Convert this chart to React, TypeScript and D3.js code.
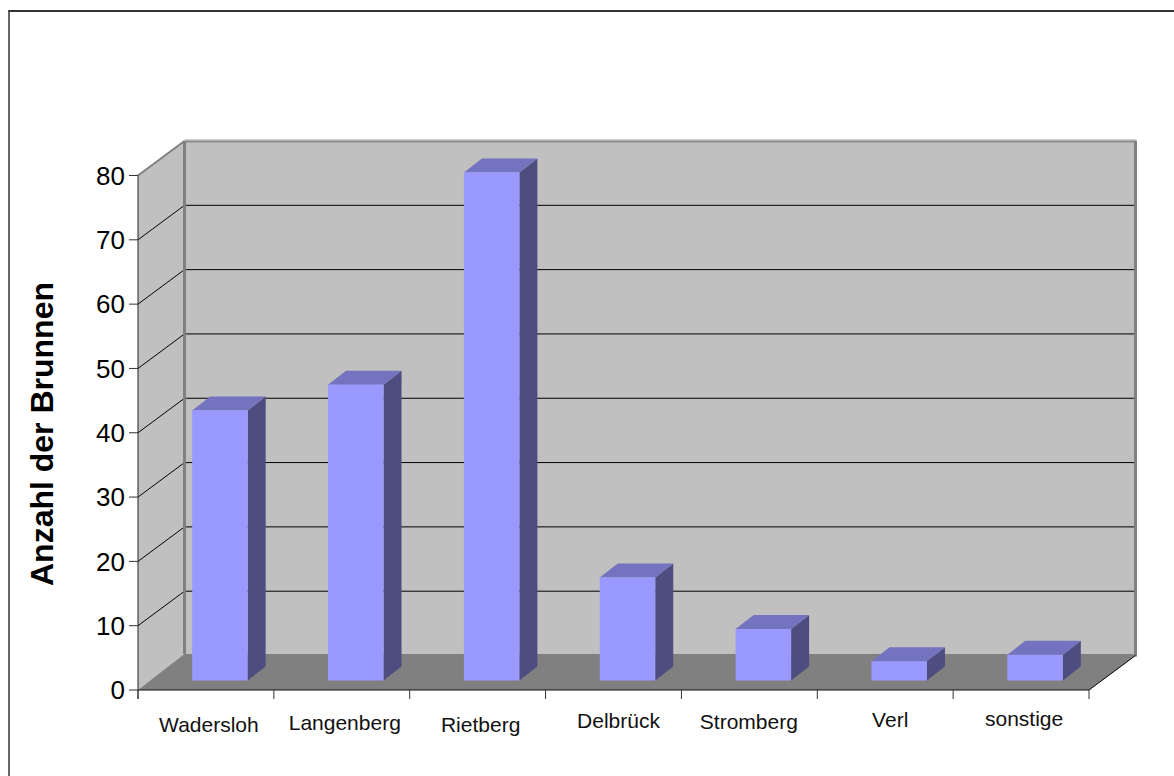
import React from "react";
import * as d3 from "d3";

const categories = ["Wadersloh", "Langenberg", "Rietberg", "Delbrück", "Stromberg", "Verl", "sonstige"];
const wellCounts = [42, 46, 79, 16, 8, 3, 4];
const yTicks = [0, 10, 20, 30, 40, 50, 60, 70, 80];
const yTitle = "Anzahl der Brunnen";
const labelBaselines = [732, 730, 732, 727.5, 728.5, 727, 726];
const labelShifts = [3, 3, 3, 5, -0.5, 5, 3];

const W = 1174;
const H = 776;
const FONT = "'Liberation Sans', Arial, sans-serif";

// Oblique offset between the front edge of the floor and the back wall.
const DX = 46.5;
const DY = -34.5;
const FLOOR_BACK_LIFT = 1.5;
// Position of the bars within the floor depth, and the bars' own depth.
const BAR_DX = 14;
const BAR_DY = -9.5;
const BAR_WIDTH = 55.5;
const BAR_DEPTH_X = 18;
const BAR_DEPTH_Y = -14;

const x = d3.scaleBand<string>().domain(categories).range([138, 1089]).paddingInner(0).paddingOuter(0);
const y = d3.scaleLinear().domain([0, 80]).range([690, 175.5]);

const pts = (p: [number, number][]) => p.map((q) => q.join(",")).join(" ");

export default function App() {
  const x0 = x.range()[0];
  const x1 = x.range()[1];
  const y0 = y(0);
  const yTop = y(80);
  const gap = (x.bandwidth() - BAR_WIDTH) / 2;
  const tickXs = [...categories.map((c) => x(c) as number), x1];
  const floorBack = y0 + DY - FLOOR_BACK_LIFT;

  return (
    <svg
      width={W}
      height={H}
      viewBox={`0 0 ${W} ${H}`}
      style={{ position: "absolute", left: 0, top: 0, background: "#fff" }}
      fontFamily={FONT}
    >
      {/* chart frame, open at the right and bottom page edges */}
      <line x1={9} x2={9} y1={11} y2={H} stroke="#333" strokeWidth={1.5} />
      <line x1={8.25} x2={W} y1={11} y2={11} stroke="#333" strokeWidth={2} />

      {/* walls and floor */}
      <polygon
        points={pts([[x0 + DX, yTop + DY], [x1 + DX, yTop + DY], [x1 + DX, y0 + DY], [x0 + DX, y0 + DY]])}
        fill="#c0c0c0"
      />
      <polygon
        points={pts([[x0, yTop], [x0 + DX, yTop + DY], [x0 + DX, y0 + DY], [x0, y0]])}
        fill="#c0c0c0"
      />

      {/* gridlines across the side and back walls */}
      {yTicks.slice(1, -1).map((t) => (
        <path
          key={t}
          d={`M${x0},${y(t)} L${x0 + DX},${y(t) + DY} H${x1 + DX}`}
          fill="none"
          stroke="#000"
          strokeWidth={1}
        />
      ))}

      {/* wall outlines */}
      <line x1={x0} x2={x0 + DX} y1={yTop} y2={yTop + DY} stroke="#808080" strokeWidth={2} />
      <line x1={x0 + DX} x2={x1 + DX + 1} y1={yTop + DY - 1} y2={yTop + DY - 1} stroke="#d0d0d0" strokeWidth={2} />
      <line x1={x0 + DX} x2={x1 + DX + 1} y1={yTop + DY + 0.5} y2={yTop + DY + 0.5} stroke="#8c8c8c" strokeWidth={2} />
      <line x1={x0 + DX} x2={x0 + DX} y1={yTop + DY} y2={floorBack} stroke="#808080" strokeWidth={3} />
      <line x1={x1 + DX} x2={x1 + DX} y1={yTop + DY} y2={y0 + DY + 1} stroke="#808080" strokeWidth={3} />

      {/* floor drawn over the foot of the walls */}
      <polygon
        points={pts([[x0, y0], [x0 + DX, floorBack], [x1 + DX - 2, floorBack], [x1 + DX, y0 + DY], [x1, y0]])}
        fill="#808080"
      />
      <line x1={x1} x2={x1 + DX} y1={y0} y2={y0 + DY} stroke="#000" strokeWidth={1} />

      {/* bars */}
      {categories.map((c, i) => {
        const left = (x(c) as number) + gap + BAR_DX;
        const right = left + BAR_WIDTH;
        const bottom = y0 + BAR_DY;
        const top = y(wellCounts[i]) + BAR_DY;
        return (
          <g key={c}>
            <polygon
              points={pts([[right, top], [right + BAR_DEPTH_X, top + BAR_DEPTH_Y], [right + BAR_DEPTH_X, bottom + BAR_DEPTH_Y], [right, bottom]])}
              fill="#4d4d80"
            />
            <polygon
              points={pts([[left, top], [left + BAR_DEPTH_X, top + BAR_DEPTH_Y], [right + BAR_DEPTH_X, top + BAR_DEPTH_Y], [right, top]])}
              fill="#7373bf"
            />
            <rect x={left} y={top} width={BAR_WIDTH} height={bottom - top} fill="#9999ff" />
          </g>
        );
      })}

      {/* axes */}
      <line x1={x0} x2={x0} y1={yTop} y2={y0 + 9} stroke="#222" strokeWidth={1} />
      <line x1={x0} x2={x1} y1={y0} y2={y0} stroke="#111" strokeWidth={1.2} />
      {yTicks.map((t) => (
        <g key={t}>
          <line x1={x0 - 9} x2={x0} y1={y(t)} y2={y(t)} stroke="#333" strokeWidth={1} />
          <text x={x0 - 13} y={y(t) + 9.3} fontSize={26} textAnchor="end" fill="#000">
            {t}
          </text>
        </g>
      ))}
      {tickXs.map((tx) => (
        <line key={tx} x1={tx} x2={tx} y1={y0} y2={y0 + 9} stroke="#333" strokeWidth={1} />
      ))}

      {/* category names */}
      {categories.map((c, i) => (
        <text
          key={c}
          x={(x(c) as number) + x.bandwidth() / 2 + labelShifts[i]}
          y={labelBaselines[i]}
          fontSize={21}
          textAnchor="middle"
          fill="#111"
        >
          {c}
        </text>
      ))}

      {/* value axis title */}
      <text
        transform="translate(52.5,434) rotate(-90)"
        fontSize={32}
        fontWeight="bold"
        textAnchor="middle"
        fill="#000"
      >
        {yTitle}
      </text>
    </svg>
  );
}
